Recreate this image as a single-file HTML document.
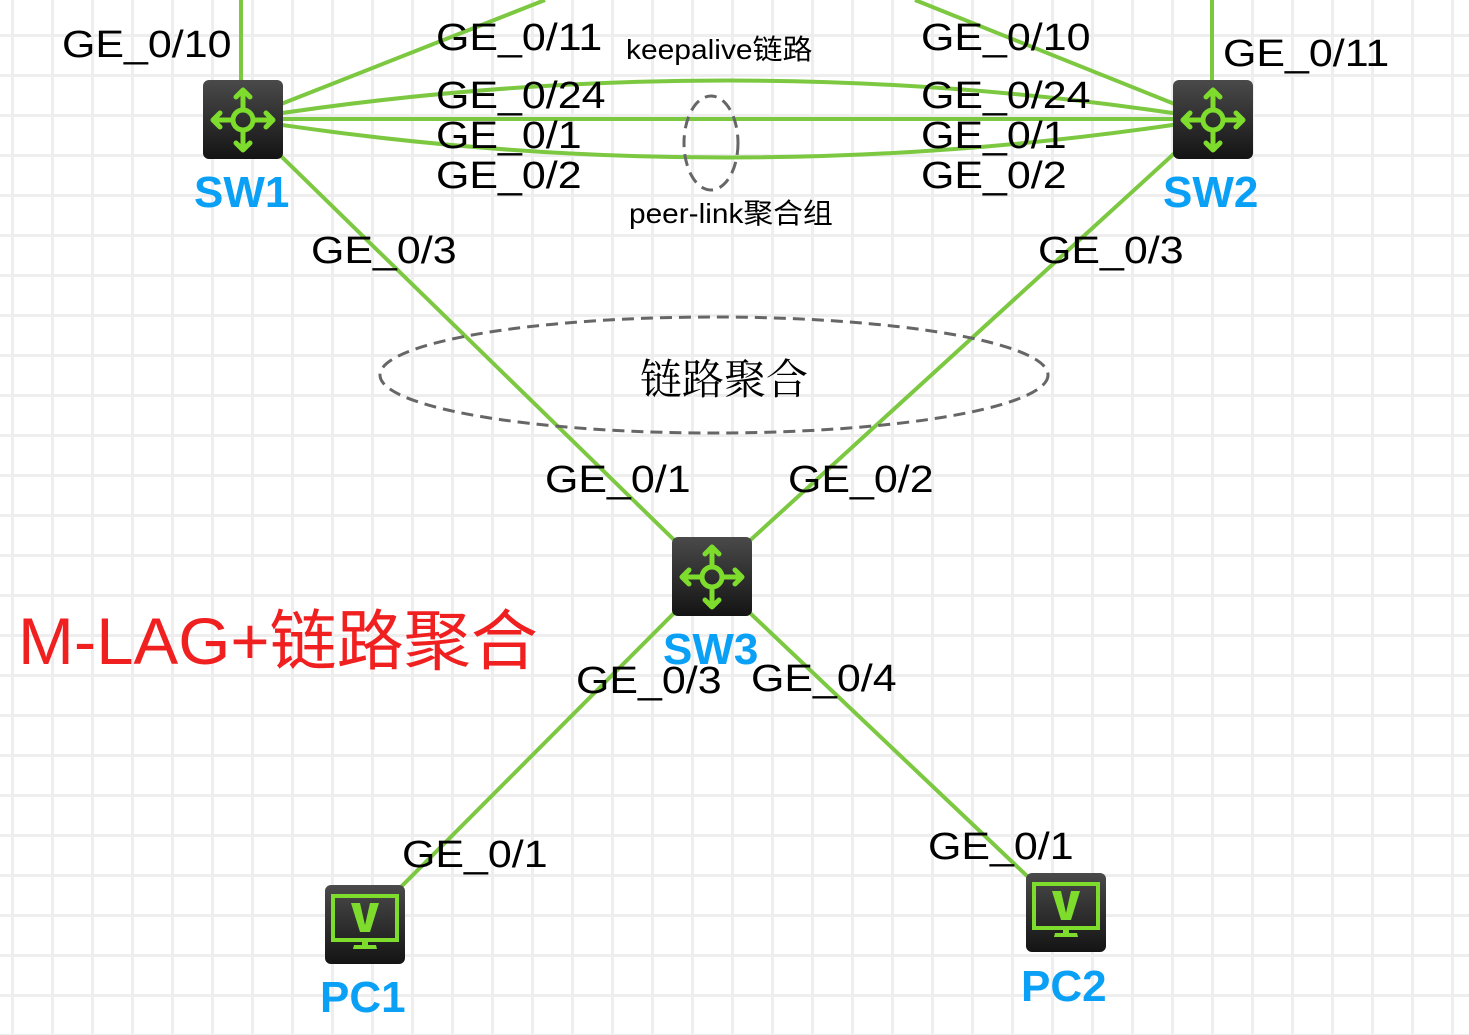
<!DOCTYPE html>
<html><head><meta charset="utf-8"><style>
html,body{margin:0;padding:0;}
body{width:1469px;height:1035px;overflow:hidden;background:#fff;
background-image:linear-gradient(to right,#eeeeee 3px,transparent 3px),linear-gradient(to bottom,#eeeeee 3px,transparent 3px);
background-size:40px 40px;background-position:11px 34px;position:relative;font-family:"Liberation Sans","Noto Sans CJK SC",sans-serif;}
svg{position:absolute;left:0;top:0;}
.t{position:absolute;white-space:nowrap;color:#000;font-size:38px;line-height:1;transform:scaleX(1.13);transform-origin:0 0;}
.n{position:absolute;white-space:nowrap;color:#0aa0f5;font-size:44px;font-weight:bold;line-height:1;}
</style></head><body>
<svg width="1469" height="1035" viewBox="0 0 1469 1035">
<defs>
<linearGradient id="g" x1="0" y1="0" x2="0" y2="1"><stop offset="0" stop-color="#4a4a4a"/><stop offset="1" stop-color="#141414"/></linearGradient>
<g id="sw">
<rect x="0" y="0" width="80" height="79" rx="6" fill="url(#g)"/>
<g stroke="#7ddc2c" stroke-width="5" fill="none" stroke-linecap="round" stroke-linejoin="round">
<circle cx="40" cy="40" r="10"/>
<path d="M40 30V10M33 17L40 10L47 17M40 50V70M33 63L40 70L47 63M30 40H10M17 33L10 40L17 47M50 40H70M63 33L70 40L63 47"/>
</g></g>
<g id="pc">
<rect x="0" y="0" width="80" height="79" rx="6" fill="url(#g)"/>
<rect x="8" y="11" width="64" height="44" fill="none" stroke="#7ddc2c" stroke-width="4"/>
<path d="M26 18H35L40 40L45 18H54L45 47H35Z" fill="#7ddc2c"/>
<path d="M37 55H43V60H37Z M29 60H51L52 64H28Z" fill="#7ddc2c"/>
</g>
</defs>
<g stroke="#7cc840" stroke-width="4" fill="none">
<line x1="241" y1="0" x2="241" y2="90"/>
<line x1="1212" y1="0" x2="1212" y2="90"/>
<line x1="243" y1="119" x2="545" y2="0"/>
<line x1="1212" y1="119" x2="915" y2="0"/>
<path d="M243 119Q727 42 1212 119"/>
<line x1="243" y1="119" x2="1212" y2="119"/>
<path d="M243 119Q727 196 1212 119"/>
<line x1="243" y1="119" x2="711" y2="576"/>
<line x1="1212" y1="119" x2="711" y2="576"/>
<line x1="711" y1="576" x2="364" y2="924"/>
<line x1="711" y1="576" x2="1065" y2="912"/>
</g>
<ellipse cx="711" cy="143" rx="27" ry="47" fill="none" stroke="#666" stroke-width="3" stroke-dasharray="12,7"/>
<ellipse cx="714" cy="375" rx="334" ry="58" fill="none" stroke="#666" stroke-width="3" stroke-dasharray="12,7"/>
<use href="#sw" x="203" y="80"/>
<use href="#sw" x="1173" y="80"/>
<use href="#sw" x="672" y="537"/>
<use href="#pc" x="325" y="885"/>
<use href="#pc" x="1026" y="873"/>
</svg>
<div class="t" style="left:62px;top:26px">GE_0/10</div>
<div class="t" style="left:436px;top:19px">GE_0/11</div>
<div class="t" style="left:436px;top:77px">GE_0/24</div>
<div class="t" style="left:436px;top:117px">GE_0/1</div>
<div class="t" style="left:436px;top:157px">GE_0/2</div>
<div class="t" style="left:921px;top:19px">GE_0/10</div>
<div class="t" style="left:921px;top:77px">GE_0/24</div>
<div class="t" style="left:921px;top:117px">GE_0/1</div>
<div class="t" style="left:921px;top:157px">GE_0/2</div>
<div class="t" style="left:1223px;top:35px">GE_0/11</div>
<div class="t" style="left:626px;top:36px;font-size:28px;transform:scaleX(1.07)">keepalive链路</div>
<div class="t" style="left:629px;top:200px;font-size:28px;transform:scaleX(1.065)">peer-link聚合组</div>
<div class="t" style="left:311px;top:232px">GE_0/3</div>
<div class="t" style="left:1038px;top:232px">GE_0/3</div>
<div class="t" style="left:640px;top:356px;font-size:42px;font-family:'Noto Serif CJK SC',serif;transform:none">链路聚合</div>
<div class="t" style="left:545px;top:461px">GE_0/1</div>
<div class="t" style="left:788px;top:461px">GE_0/2</div>
<div class="t" style="left:576px;top:662px">GE_0/3</div>
<div class="t" style="left:751px;top:660px">GE_0/4</div>
<div class="t" style="left:402px;top:836px">GE_0/1</div>
<div class="t" style="left:928px;top:828px">GE_0/1</div>
<div class="t" style="left:18px;top:608px;font-size:66px;color:#f02020;transform:scaleX(1.016)">M-LAG+链路聚合</div>
<div class="n" style="left:194px;top:171px">SW1</div>
<div class="n" style="left:1163px;top:171px">SW2</div>
<div class="n" style="left:663px;top:628px">SW3</div>
<div class="n" style="left:320px;top:976px">PC1</div>
<div class="n" style="left:1021px;top:965px">PC2</div>
</body></html>
